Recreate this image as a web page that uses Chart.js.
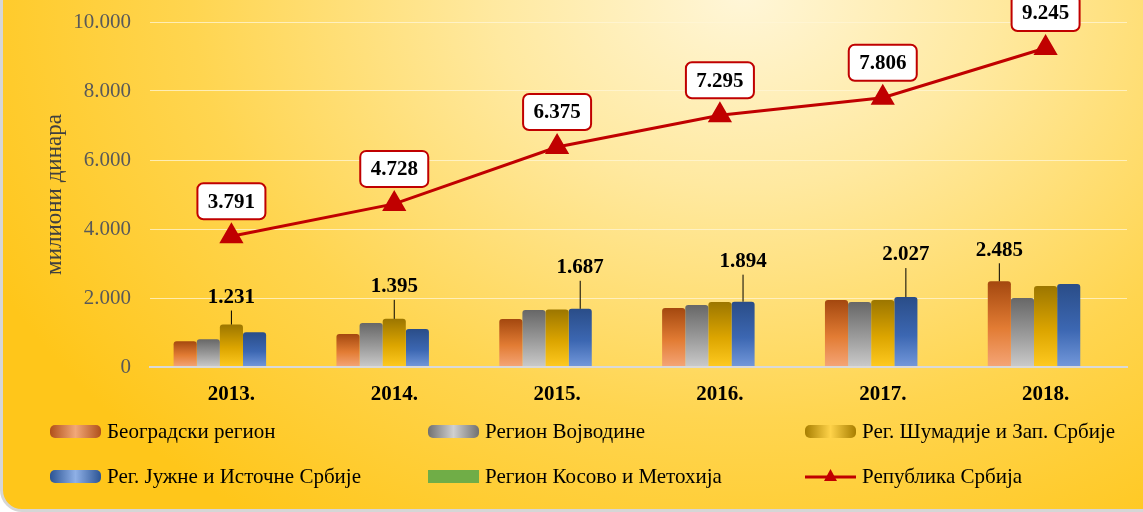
<!DOCTYPE html>
<html>
<head>
<meta charset="utf-8">
<script src="https://cdn.jsdelivr.net/npm/chart.js@4.4.0/dist/chart.umd.min.js"></script>
<style>
html, body { margin: 0; padding: 0; }
body { width: 1143px; height: 512px; overflow: hidden; position: relative; background: #fff;
       font-family: "Liberation Serif", "Times New Roman", serif; }
#frame { position: absolute; left: 0; top: -30px; width: 1200px; height: 542px; box-sizing: border-box;
         border: 3px solid #d6d6d6; border-radius: 22px;
         background: radial-gradient(ellipse 70% 120% at 62% 4%, #fff6d8 0%, #ffe9a0 30%, #ffd550 66%, #ffc61a 100%); }
#chart { position: absolute; left: 0; top: 0; }
.item { position: absolute; display: flex; align-items: center; font-size: 21px; color: #000; white-space: nowrap; }
.sw { width: 51px; height: 13px; border-radius: 5px; margin-right: 6px; }
</style>
</head>
<body>
<div id="frame"></div>
<canvas id="chart" width="1143" height="512"></canvas>
<div id="legend"></div>
<script>
var years = ['2013.', '2014.', '2015.', '2016.', '2017.', '2018.'];
var beograd = [750, 955, 1390, 1710, 1940, 2485];
var vojvodina = [805, 1275, 1650, 1800, 1885, 2000];
var sumadija = [1231, 1395, 1665, 1885, 1940, 2345];
var jug = [1010, 1100, 1687, 1894, 2027, 2405];
var kosovo = [null, null, null, null, null, null];
var srbija = [3791, 4728, 6375, 7295, 7806, 9245];

function fmt(v) {
    return String(v).replace(/\B(?=(\d{3})+(?!\d))/g, '.');
}

// vertical shading for each bar, dark top -> light bottom
function shade(top, mid, bottom) {
    return function(c) {
        var chart = c.chart;
        if (!chart.chartArea || c.type !== 'data' || c.parsed == null) return mid;
        var y = chart.scales.y;
        var y0 = y.getPixelForValue(0);
        var y1 = y.getPixelForValue(c.parsed.y);
        if (!isFinite(y1) || y1 >= y0) return mid;
        var g = chart.ctx.createLinearGradient(0, y1, 0, y0);
        g.addColorStop(0, top);
        g.addColorStop(0.55, mid);
        g.addColorStop(1, bottom);
        return g;
    };
}

var swatches = [
    'linear-gradient(90deg,#b0501a,#f2a878 50%,#b0501a)',
    'linear-gradient(90deg,#707070,#d0d0d0 50%,#707070)',
    'linear-gradient(90deg,#a87e00,#ffd34a 50%,#a87e00)',
    'linear-gradient(90deg,#2c5494,#8fb0e6 50%,#2c5494)',
    '#70ad47',
    null
];

var barOpts = { categoryPercentage: 0.71, barPercentage: 1, borderSkipped: 'bottom',
                borderRadius: { topLeft: 3, topRight: 3 }, order: 1 };

var labelsPlugin = {
    id: 'valueLabels',
    afterDatasetsDraw: function(chart, args, opts) {
        var ctx = chart.ctx;
        ctx.save();
        ctx.font = 'bold 21px "Liberation Serif"';
        ctx.textAlign = 'center';
        ctx.textBaseline = 'middle';
        // highest regional bar of every year gets a label with a leader line
        years.forEach(function(yr, i) {
            var best = null, bestV = -1;
            chart.data.datasets.forEach(function(ds, d) {
                if (ds.type === 'line') return;
                var v = ds.data[i];
                if (v != null && v > bestV) { bestV = v; best = chart.getDatasetMeta(d).data[i]; }
            });
            if (!best) return;
            var ty = best.y - opts.barLift[i];
            ctx.strokeStyle = '#000';
            ctx.lineWidth = 1;
            ctx.beginPath();
            ctx.moveTo(best.x, ty + 13);
            ctx.lineTo(best.x, best.y);
            ctx.stroke();
            ctx.fillStyle = '#000';
            ctx.fillText(fmt(bestV), best.x, ty);
        });
        // boxed labels on the Serbia line
        var lm = chart.getDatasetMeta(5);
        lm.data.forEach(function(pt, i) {
            var cx = pt.x, cy = pt.y - 35;
            ctx.beginPath();
            ctx.roundRect(cx - 34, cy - 18, 68, 36, 6);
            ctx.fillStyle = '#fff';
            ctx.fill();
            ctx.lineWidth = 2;
            ctx.strokeStyle = '#c00000';
            ctx.stroke();
            ctx.fillStyle = '#000';
            ctx.fillText(fmt(srbija[i]), cx, cy + 1);
        });
        ctx.restore();
    }
};

var chart = new Chart(document.getElementById('chart'), {
    type: 'bar',
    data: {
        labels: years,
        datasets: [
            Object.assign({ label: 'Београдски регион', data: beograd,
                backgroundColor: shade('#a4480f', '#e27c34', '#f5a577') }, barOpts),
            Object.assign({ label: 'Регион Војводине', data: vojvodina,
                backgroundColor: shade('#676767', '#9c9c9c', '#cacaca') }, barOpts),
            Object.assign({ label: 'Рег. Шумадије и Зап. Србије', data: sumadija,
                backgroundColor: shade('#9c7600', '#dca500', '#ffca20') }, barOpts),
            Object.assign({ label: 'Рег. Јужне и Источне Србије', data: jug,
                backgroundColor: shade('#2a4d88', '#3c67b2', '#7398da') }, barOpts),
            Object.assign({ label: 'Регион Косово и Метохија', data: kosovo,
                backgroundColor: '#70ad47' }, barOpts),
            {
                type: 'line', label: 'Република Србија', data: srbija, order: 0,
                borderColor: '#c00000', borderWidth: 3, tension: 0, clip: false,
                pointStyle: 'triangle', pointRadius: 11, pointHoverRadius: 11,
                pointBackgroundColor: '#c00000', pointBorderColor: '#c00000'
            }
        ]
    },
    options: {
        responsive: false,
        animation: false,
        layout: { autoPadding: false, padding: { top: 22, right: 16, left: 0, bottom: 0 } },
        plugins: {
            legend: { display: false },
            tooltip: { enabled: false },
            valueLabels: { barLift: [27, 32, 41, 40, 42, 31] }
        },
        scales: {
            x: {
                afterFit: function(s) { s.height = 145; },
                grid: { display: false },
                border: { display: true, color: '#d9d9d9', width: 2 },
                ticks: { color: '#000', padding: 7,
                         font: { family: 'Liberation Serif', size: 21, weight: 'bold' } }
            },
            y: {
                min: 0, max: 10000,
                afterFit: function(s) { s.width = 150; s.paddingTop = 0; s.paddingBottom = 0; },
                border: { display: false },
                grid: { drawTicks: false,
                        color: function(c) { return c.tick && c.tick.value === 0 ? '#d9d9d9' : 'rgba(255,246,214,0.75)'; },
                        lineWidth: function(c) { return c.tick && c.tick.value === 0 ? 2 : 1; } },
                ticks: { stepSize: 2000, padding: 19, color: '#595959',
                         font: { family: 'Liberation Serif', size: 21 },
                         callback: function(v) { return fmt(v); } },
                title: { display: true, text: 'милиони динара', color: '#404040',
                         padding: { top: 41, bottom: 0 },
                         font: { family: 'Liberation Serif', size: 23 } }
            }
        }
    },
    plugins: [labelsPlugin]
});

// legend in three fixed columns, two rows
var legend = document.getElementById('legend');
var cols = [50, 428, 805];
var rows = [431, 476];
chart.data.datasets.forEach(function(ds, i) {
    var item = document.createElement('div');
    item.className = 'item';
    item.style.left = cols[i % 3] + 'px';
    item.style.top = (rows[Math.floor(i / 3)] - 13) + 'px';
    item.style.height = '26px';
    var sw;
    if (swatches[i]) {
        sw = document.createElement('div');
        sw.className = 'sw';
        sw.style.background = swatches[i];
        if (i === 4) sw.style.borderRadius = '0';
    } else {
        sw = document.createElement('canvas');
        sw.width = 51; sw.height = 20;
        sw.style.marginRight = '6px';
        var c = sw.getContext('2d');
        c.strokeStyle = ds.borderColor; c.lineWidth = 3;
        c.beginPath(); c.moveTo(0, 11); c.lineTo(51, 11); c.stroke();
        c.fillStyle = ds.borderColor;
        c.beginPath(); c.moveTo(25.5, 3); c.lineTo(32, 15); c.lineTo(19, 15); c.closePath(); c.fill();
    }
    item.appendChild(sw);
    var t = document.createElement('span');
    t.textContent = ds.label;
    item.appendChild(t);
    legend.appendChild(item);
});
</script>
</body>
</html>
